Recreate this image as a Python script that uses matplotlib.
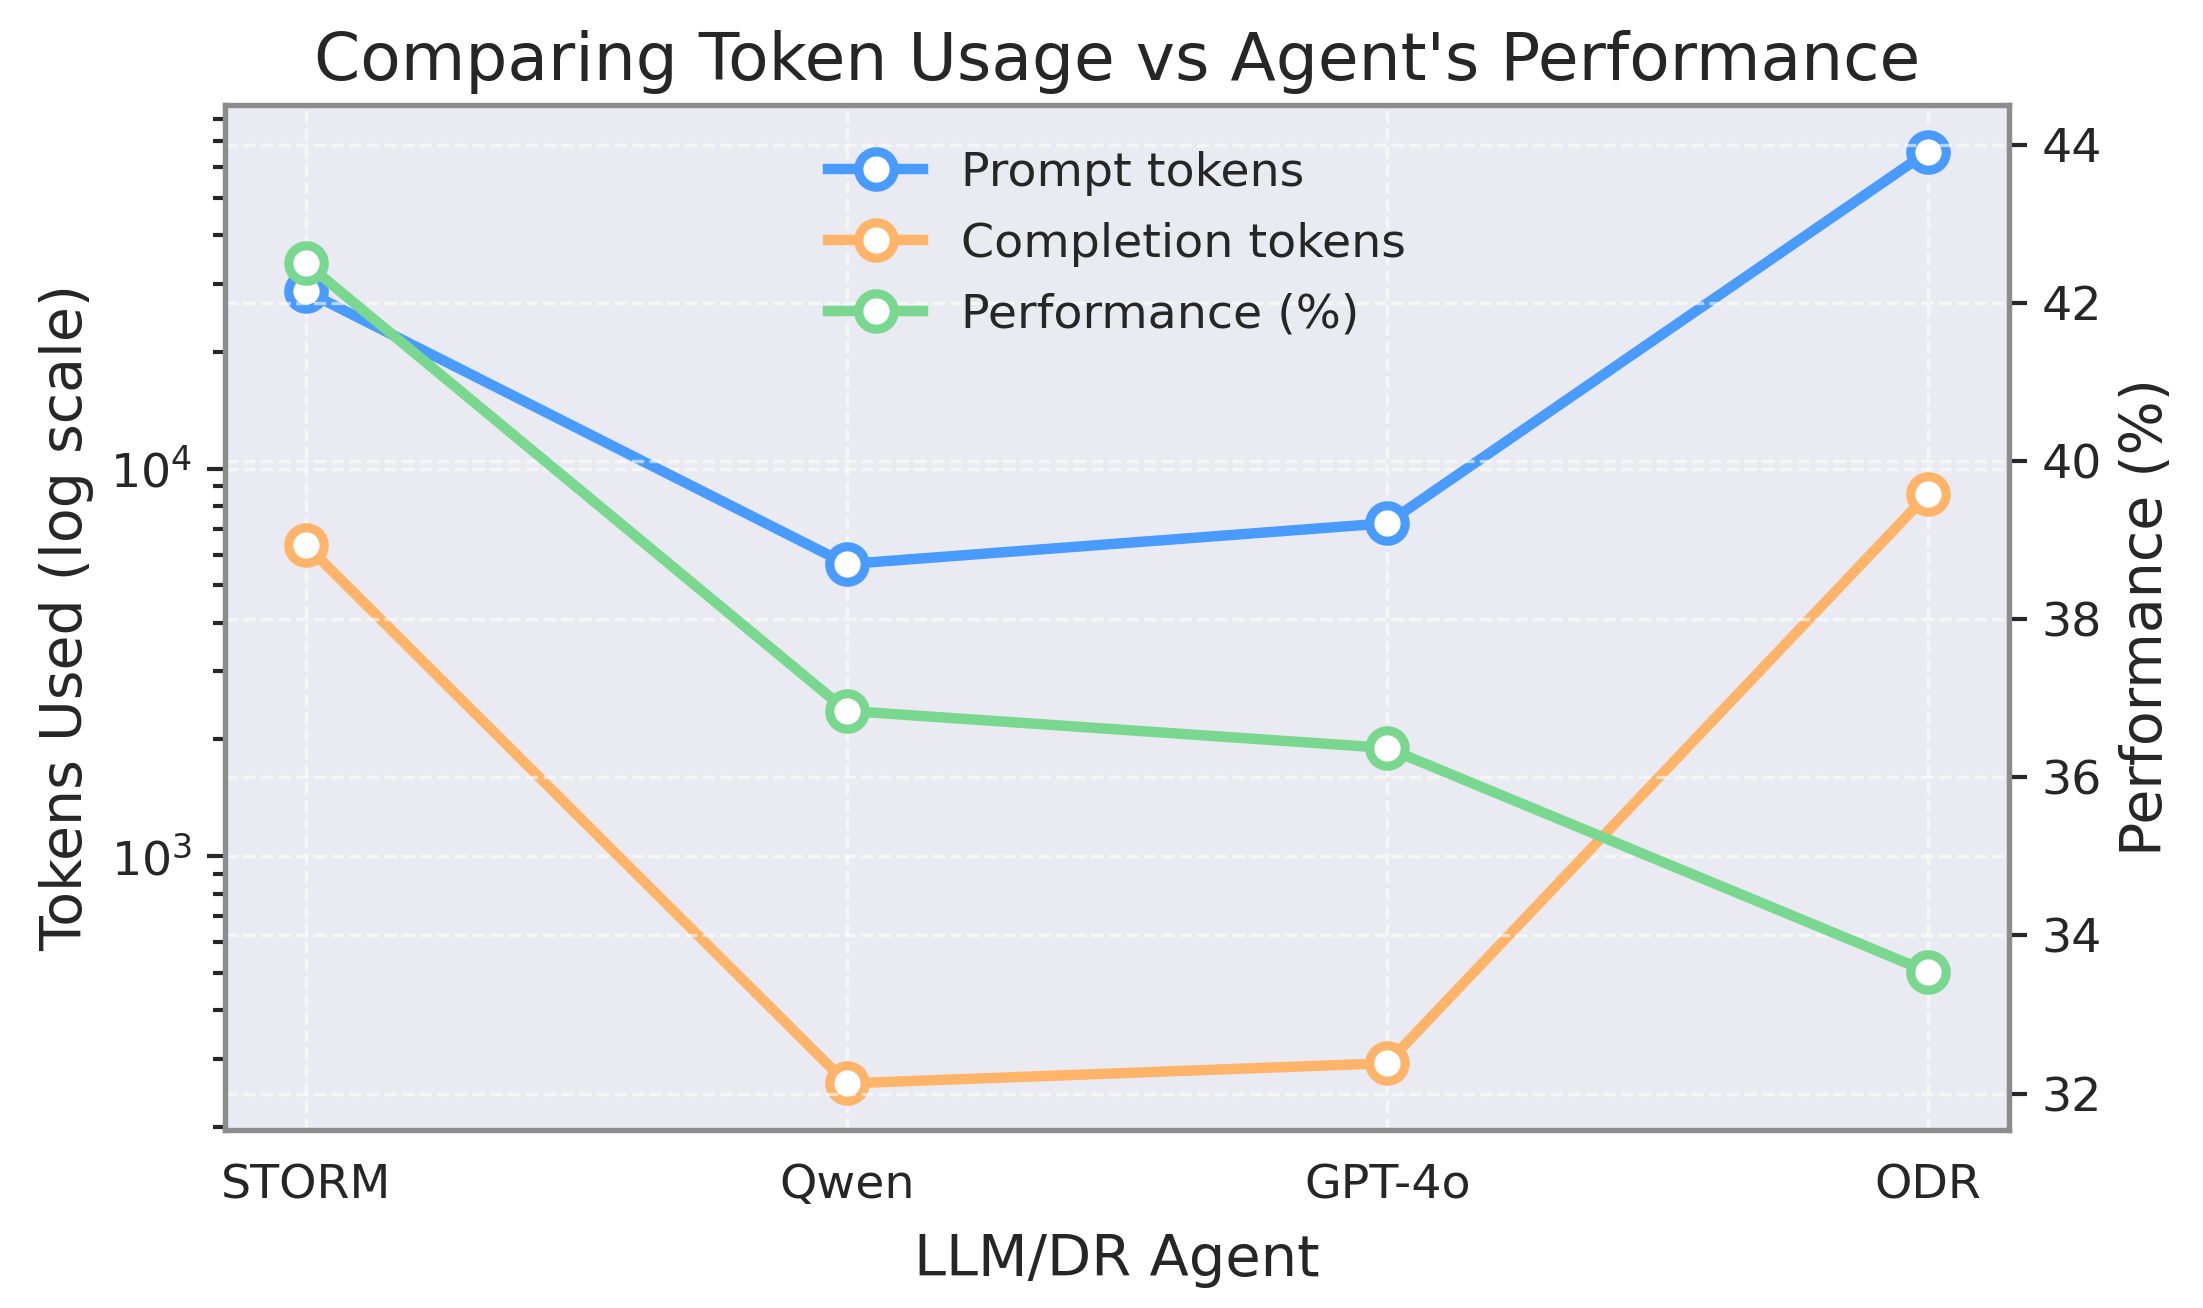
import matplotlib
matplotlib.use("Agg")
import matplotlib.pyplot as plt

agents = ["STORM", "Qwen", "GPT-4o", "ODR"]
prompt_tokens = [28700, 5670, 7230, 65800]
completion_tokens = [6350, 259, 292, 8600]
performance = [42.5, 36.84, 36.37, 33.54]

c_blue = "#4A9BFF"
c_orange = "#FFB46A"
c_green = "#7AD78F"
bg = "#EAEAF2"
txt = "#262626"

plt.rcParams["font.family"] = ["DejaVu Sans"]
plt.rcParams["text.color"] = txt
plt.rcParams["axes.labelcolor"] = txt
plt.rcParams["xtick.color"] = txt
plt.rcParams["ytick.color"] = txt

fig = plt.figure(figsize=(2203 / 300, 1308 / 300), dpi=300)
ax1 = fig.add_axes([225 / 2203, 1 - 1130 / 1308, (2009 - 225) / 2203, (1130 - 105) / 1308])
ax1.set_facecolor(bg)
x = list(range(len(agents)))

lw, ms, mew = 2.5, 8.5, 2.2
l1, = ax1.plot(x, prompt_tokens, color=c_blue, lw=lw, marker="o", ms=ms,
               mfc="white", mec=c_blue, mew=mew, label="Prompt tokens")
l2, = ax1.plot(x, completion_tokens, color=c_orange, lw=lw, marker="o", ms=ms,
               mfc="white", mec=c_orange, mew=mew, label="Completion tokens")
ax1.set_yscale("log")
ax1.set_xticks(x)
ax1.set_xticklabels(agents, fontsize=11.4)
ax1.tick_params(axis="x", length=0, pad=8)
ax1.tick_params(axis="y", which="major", length=4.3, width=1.0, labelsize=11.4, colors=txt)
ax1.tick_params(axis="y", which="minor", length=3.0, width=1.0)
ax1.set_xlabel("LLM/DR Agent", fontsize=13.8, labelpad=6)
ax1.set_ylabel("Tokens Used (log scale)", fontsize=13.7)
ax1.grid(True, which="major", color="white", linestyle="--", linewidth=0.8, alpha=0.6)
ax1.set_axisbelow(True)
for s in ax1.spines.values():
    s.set_color("#8C8C8C")
    s.set_linewidth(1.25)

ax2 = ax1.twinx()
l3, = ax2.plot(x, performance, color=c_green, lw=lw, marker="o", ms=ms,
               mfc="white", mec=c_green, mew=mew, label="Performance (%)")
ax2.set_ylim(min(performance) - 2, max(performance) + 2)
ax2.set_ylabel("Performance (%)", fontsize=13.7)
ax2.tick_params(axis="y", length=4.3, width=1.0, labelsize=11.4)
ax2.grid(True, color="white", linestyle="--", linewidth=0.8, alpha=0.6)
ax2.set_axisbelow(True)
for s in ax2.spines.values():
    s.set_color("#8C8C8C")
    s.set_linewidth(1.25)

ax2.legend([l1, l2, l3], [l.get_label() for l in (l1, l2, l3)], loc="upper center",
           frameon=False, fontsize=11.4, labelspacing=0.55, borderaxespad=0.56)

ax1.set_title("Comparing Token Usage vs Agent's Performance", fontsize=15.9)

fig.savefig("out.png", dpi=300)
